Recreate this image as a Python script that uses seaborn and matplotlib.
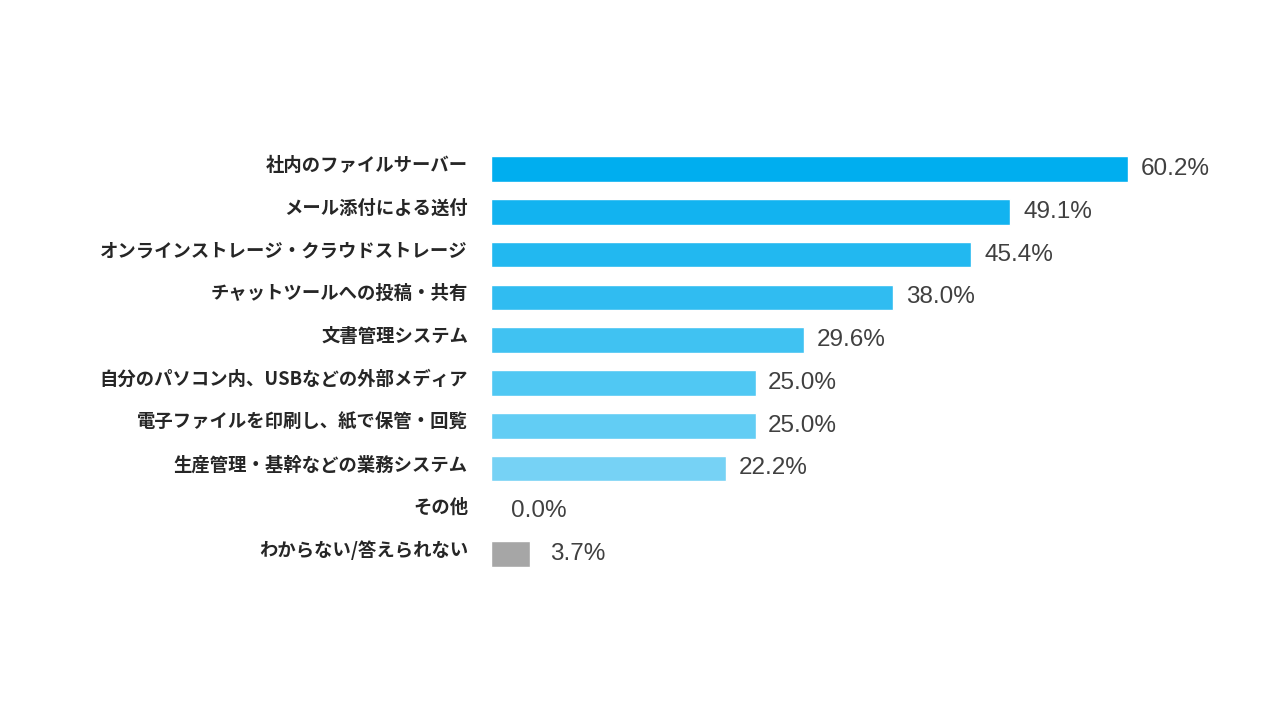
import matplotlib
matplotlib.use("Agg")
import matplotlib.pyplot as plt
import matplotlib.transforms as mtransforms
import seaborn as sns
import pandas as pd

categories = [
    "社内のファイルサーバー",
    "メール添付による送付",
    "オンラインストレージ・クラウドストレージ",
    "チャットツールへの投稿・共有",
    "文書管理システム",
    "自分のパソコン内、USBなどの外部メディア",
    "電子ファイルを印刷し、紙で保管・回覧",
    "生産管理・基幹などの業務システム",
    "その他",
    "わからない/答えられない",
]
values = [60.2, 49.1, 45.4, 38.0, 29.6, 25.0, 25.0, 22.2, 0.0, 3.7]

bar_colors = ["#00aeef", "#12b3f0", "#22b8f0", "#30bcf1", "#40c2f2",
              "#50c8f3", "#62cdf4", "#76d2f5", "#8ad8f6", "#a6a6a6"]

df = pd.DataFrame({"item": categories, "pct": values})

sns.set_style("white")
plt.rcParams["font.family"] = ["Noto Sans CJK JP", "DejaVu Sans"]

fig = plt.figure(figsize=(12.8, 7.2), dpi=100)
ax = fig.add_axes([0.3836, 0.2008, 0.58, 0.5942])

sns.barplot(data=df, y="item", x="pct", hue="item", palette=bar_colors,
            legend=False, width=0.6, ax=ax, saturation=1)

ax.set_xlim(0, 0.58 * 1280 / 10.58)
ax.set_ylim(9.5, -0.5)
ax.set_xlabel("")
ax.set_ylabel("")
ax.set_xticks([])
ax.set_yticklabels([])
ax.tick_params(axis="y", length=0)
sns.despine(ax=ax, left=True, bottom=True)

# category labels, right aligned just left of the bars, a bit above centre
lab_tr = mtransforms.offset_copy(ax.get_yaxis_transform(), fig=fig, x=-23, y=3.5, units="dots")
for i, c in enumerate(categories):
    ax.text(0, i, c, transform=lab_tr, ha="right", va="center",
            fontsize=13.2, fontweight="bold", color="#262626")

for i, v in enumerate(values):
    off = 1.9 if v < 5 else 1.2
    ax.text(v + off, i, f"{v:.1f}%", va="center", ha="left",
            fontsize=17.5, color="#404040", family=["Liberation Sans", "DejaVu Sans"])

fig.savefig("out.png", dpi=100)
